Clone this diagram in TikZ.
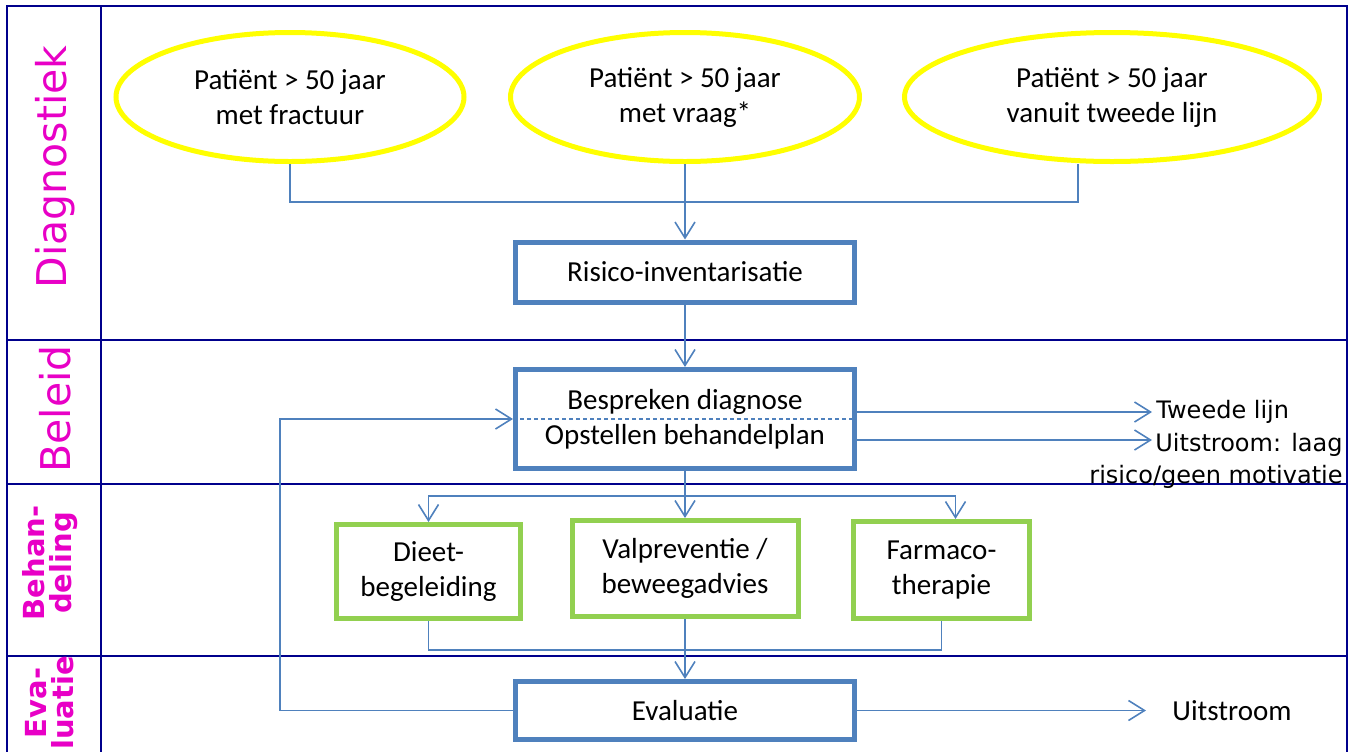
\documentclass[tikz,border=0pt]{standalone}
\usepackage{fontspec}
\setmainfont{Carlito}
\newfontfamily\verdfont{DejaVu Sans}
\usetikzlibrary{shapes.geometric,arrows.meta}
\definecolor{kader}{RGB}{0,0,140}
\definecolor{blauw}{RGB}{79,129,189}
\definecolor{geel}{RGB}{255,255,0}
\definecolor{groen}{RGB}{146,208,80}
\definecolor{roze}{RGB}{232,0,198}
\tikzset{
  baanlijn/.style={draw=kader, line width=1pt},
  baan/.style={rotate=90, text=roze, align=center, inner sep=0pt, font=\verdfont\fontsize{20.5}{24}\selectfont},
  baanvet/.style={baan, font=\verdfont\bfseries\fontsize{14.5}{13.5}\selectfont},
  ovaal/.style={ellipse, draw=geel, line width=2.5pt, minimum height=64.5pt, inner sep=0pt, align=center, font=\fontsize{14.5}{17.5}\selectfont},
  blok/.style={rectangle, draw=blauw, line width=2.5pt, minimum width=169.5pt, align=center, font=\fontsize{14.5}{17.5}\selectfont},
  groenblok/.style={rectangle, draw=groen, line width=2.5pt, align=center, font=\fontsize{14.5}{17.5}\selectfont},
  lijn/.style={draw=blauw, line width=0.8pt},
  pijl/.style={lijn, -{Straight Barb[length=8pt,width=10pt]}},
  uitgang/.style={font=\verdfont\fontsize{12}{16}\selectfont, inner sep=2pt}
}
\begin{document}
\begin{tikzpicture}[x=0.5pt, y=-0.5pt]
\useasboundingbox (0,0) rectangle (1356,751);
\draw[baanlijn] (7,6) rectangle (1347,770);
\draw[baanlijn] (101,6) -- (101,770);
\foreach \y in {340,484,656}
   \draw[baanlijn] (7,\y) -- (1347,\y);
\node[baan] (diag) at (55,167) {Diagnostiek};
\node[baan] (beleid) at (55,409) {Beleid};
\node[baanvet] (behan) at (50,563) {Behan-\\deling};
\node[baanvet] (evalbaan) at (50,703) {Eva-\\luatie};
%------------------
\foreach \naam/\xx/\br/\regel in {ov1/290/174pt/met fractuur, ov2/685/174.5pt/met vraag*, ov3/1112/207.5pt/vanuit tweede lijn}{
   \node[ovaal, minimum width=\br] (\naam) at (\xx,97) {Patiënt > 50 jaar\\\regel};
   }
\node[blok, minimum height=30pt] (risico) at (685,272) {Risico-inventarisatie};
\node[blok, minimum height=49.5pt] (bespr) at (685,419) {Bespreken diagnose\\Opstellen behandelplan};
\node[blok, minimum height=29pt] (eval) at (685,710.5) {Evaluatie};
\node[groenblok, minimum width=92pt, minimum height=47pt] (dieet) at (428.5,571.5) {Dieet-\\begeleiding};
\node[groenblok, minimum width=113pt, minimum height=48pt] (valp) at (685,568.5) {Valpreventie /\\beweegadvies};
\node[groenblok, minimum width=88pt, minimum height=48.5pt] (farma) at (941.5,570) {Farmaco-\\therapie};
%------------------
\node[uitgang, anchor=west] (tweede) at (1152,412) {Tweede lijn};
\coordinate (uitpijl) at (1152,440);
\node[uitgang, anchor=east, align=right] (uitlaag) at (1347,461) {Uitstroom: laag\\risico/geen motivatie};
\node[font=\fontsize{14.5}{17.5}\selectfont, anchor=west, inner sep=0pt] (uitstroom) at (1172,710.5) {Uitstroom};
%------------------
\coordinate (knoop) at (685,202);
\draw[lijn] (ov1.south) |- (knoop) -| ([xshift=-17pt]ov3.south);
\draw[pijl] (ov2.south) -- (risico.north);
\draw[pijl] (risico.south) -- (bespr.north);
\draw[lijn, dash pattern=on 2pt off 1.5pt] (bespr.west) -- (bespr.east);
\draw[pijl] (bespr.east |- tweede.west) -- (tweede.west);
\draw[pijl] (bespr.east |- uitpijl) -- (uitpijl);
\coordinate (splits) at (685,496);
\draw[lijn] (bespr.south) -- (splits);
\draw[pijl] (splits) -| (dieet.north);
\draw[pijl] (splits) -- (valp.north);
\draw[pijl] (splits) -| ([xshift=7pt]farma.north);
\coordinate (samen) at (685,650);
\draw[lijn] (dieet.south) |- (samen) -| (farma.south);
\draw[pijl] (valp.south) -- (eval.north);
\coordinate (hoek) at (280,711);
\draw[pijl] (eval.west) -| (hoek |- bespr.west) -- (bespr.west);
\draw[pijl] (eval.east) -- ([xshift=-13pt]uitstroom.west);
\end{tikzpicture}
\end{document}
